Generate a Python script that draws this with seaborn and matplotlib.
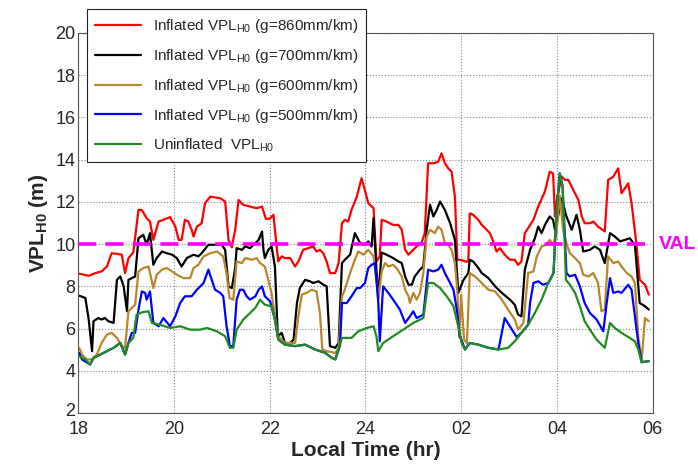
import numpy as np
import pandas as pd
import seaborn as sns
import matplotlib
matplotlib.use('Agg')
import matplotlib.pyplot as plt
from matplotlib.transforms import ScaledTranslation

# ---- data (local time in hours, 18 -> 30 = 06 next day) ----
red_t = [18.02, 18.22, 18.36, 18.49, 18.6, 18.7, 18.81, 18.91, 18.98, 19.05, 19.15, 19.26, 19.33,
         19.43, 19.5, 19.57, 19.68, 19.78, 19.92, 20.03, 20.1, 20.16, 20.23, 20.3, 20.37, 20.41,
         20.48, 20.58, 20.65, 20.76, 20.97, 21.07, 21.14, 21.21, 21.28, 21.35, 21.45, 21.59, 21.73,
         21.84, 21.92, 22.0, 22.08, 22.11, 22.18, 22.25, 22.32, 22.43, 22.53, 22.6, 22.7, 22.81,
         22.91, 22.98, 23.05, 23.12, 23.19, 23.26, 23.37, 23.44, 23.51, 23.57, 23.64, 23.71, 23.82,
         23.92, 23.96, 24.06, 24.17, 24.23, 24.3, 24.34, 24.44, 24.58, 24.69, 24.76, 24.83, 24.9,
         25.0, 25.07, 25.17, 25.24, 25.31, 25.42, 25.52, 25.59, 25.66, 25.73, 25.8, 25.87, 25.92,
         25.98, 26.08, 26.15, 26.18, 26.25, 26.36, 26.43, 26.5, 26.6, 26.67, 26.74, 26.81, 26.91,
         27.02, 27.12, 27.19, 27.26, 27.33, 27.4, 27.51, 27.61, 27.75, 27.85, 27.92, 27.96, 28.01,
         28.1, 28.17, 28.24, 28.34, 28.45, 28.52, 28.58, 28.69, 28.76, 28.86, 29.0, 29.07, 29.18,
         29.28, 29.35, 29.49, 29.56, 29.66, 29.73, 29.84, 29.92]
red_v = [8.6, 8.5, 8.63, 8.71, 8.94, 9.57, 9.54, 9.5, 8.63, 9.34, 9.6, 11.62, 11.62,
         11.23, 11.07, 10.2, 11.07, 11.15, 11.28, 10.83, 10.2, 10.2, 11.15, 11.07, 10.68, 10.36,
         10.83, 10.99, 11.94, 12.25, 12.17, 12.02, 10.2, 9.85, 10.68, 12.09, 11.86, 11.78, 11.7,
         11.78, 11.2, 11.2, 11.39, 10.68, 9.18, 9.42, 9.34, 9.34, 8.94, 9.18, 9.73, 9.81,
         9.89, 9.65, 9.73, 9.57, 9.18, 8.63, 8.63, 9.1, 10.99, 11.15, 11.07, 11.62, 12.25,
         13.12, 12.8, 11.94, 11.7, 9.18, 9.42, 11.15, 11.07, 10.91, 10.91, 10.68, 9.73, 9.5,
         9.73, 9.89, 10.05, 10.52, 13.83, 13.83, 13.9, 14.3, 13.83, 13.59, 13.43, 12.25, 9.26,
         9.26, 9.18, 9.18, 11.46, 11.39, 11.15, 10.91, 10.76, 10.52, 10.13, 9.65, 9.81, 9.5,
         9.26, 9.26, 9.02, 9.18, 10.52, 10.76, 11.15, 11.78, 12.49, 13.43, 13.35, 11.31, 12.25,
         13.2, 13.04, 13.04, 12.57, 12.09, 11.31, 10.99, 10.99, 11.07, 10.83, 10.6, 13.04, 13.2,
         13.59, 12.41, 12.88, 11.94, 10.05, 8.31, 8.08, 7.61]

black_t = [18.02, 18.15, 18.22, 18.29, 18.32, 18.42, 18.49, 18.56, 18.63, 18.74, 18.81, 18.88,
           18.95, 19.02, 19.05, 19.12, 19.19, 19.26, 19.36, 19.43, 19.5, 19.57, 19.64, 19.75,
           19.85, 19.96, 20.06, 20.16, 20.27, 20.41, 20.51, 20.58, 20.72, 20.86, 21.0, 21.07,
           21.14, 21.21, 21.28, 21.31, 21.42, 21.49, 21.59, 21.7, 21.77, 21.84, 21.87, 21.9,
           21.97, 22.04, 22.11, 22.17, 22.25, 22.32, 22.43, 22.5, 22.57, 22.63, 22.74, 22.84,
           22.91, 23.02, 23.12, 23.19, 23.26, 23.37, 23.44, 23.51, 23.57, 23.68, 23.78, 23.89,
           23.99, 24.06, 24.13, 24.17, 24.23, 24.27, 24.34, 24.44, 24.58, 24.69, 24.76, 24.83,
           24.9, 24.97, 25.03, 25.14, 25.21, 25.28, 25.35, 25.42, 25.49, 25.56, 25.66, 25.77,
           25.87, 25.94, 26.05, 26.15, 26.18, 26.25, 26.36, 26.43, 26.57, 26.71, 26.85, 27.02,
           27.12, 27.19, 27.26, 27.33, 27.44, 27.54, 27.61, 27.68, 27.75, 27.85, 27.92, 27.96,
           28.01, 28.1, 28.2, 28.31, 28.41, 28.48, 28.55, 28.69, 28.79, 28.9, 29.0, 29.11,
           29.21, 29.32, 29.42, 29.52, 29.63, 29.73, 29.84, 29.92]
black_v = [7.56, 7.45, 6.43, 4.93, 6.35, 6.5, 6.43, 6.5, 6.35, 6.27, 8.31, 8.47,
           8.0, 6.82, 8.31, 8.39, 8.47, 10.28, 10.44, 9.97, 10.52, 9.02, 9.34, 9.65,
           9.57, 9.5, 9.34, 8.94, 9.34, 9.5, 9.42, 9.57, 9.97, 9.97, 9.97, 9.73,
           8.0, 7.92, 8.87, 9.81, 9.73, 9.89, 9.81, 10.05, 10.2, 10.6, 9.73, 9.34,
           9.73, 9.89, 8.94, 5.64, 5.8, 5.32, 5.32, 5.48, 7.21, 7.92, 8.31, 8.24,
           8.16, 8.24, 8.08, 8.0, 5.17, 5.09, 5.32, 9.1, 9.26, 9.5, 10.52, 10.05,
           9.97, 10.13, 9.89, 11.23, 8.79, 7.53, 9.6, 9.5, 9.34, 9.18, 9.1, 8.47,
           8.08, 8.08, 8.47, 8.79, 8.94, 10.68, 11.86, 11.31, 11.62, 12.02, 11.62, 10.99,
           10.2, 7.69, 8.31, 8.63, 9.26, 9.18, 8.87, 8.63, 8.39, 8.0, 7.69, 7.37,
           7.13, 6.66, 6.58, 8.79, 9.73, 10.28, 10.83, 10.52, 10.91, 11.31, 11.15, 10.68,
           11.15, 12.17, 11.31, 10.68, 11.39, 10.68, 9.65, 9.73, 9.89, 9.73, 9.1, 10.52,
           10.36, 10.13, 10.2, 10.28, 9.97, 7.21, 7.06, 6.9]

brown_t = [18.02, 18.08, 18.18, 18.29, 18.39, 18.49, 18.6, 18.7, 18.81, 18.91, 18.98, 19.05,
           19.12, 19.19, 19.26, 19.36, 19.47, 19.57, 19.64, 19.75, 19.85, 19.96, 20.06, 20.2,
           20.34, 20.41, 20.51, 20.62, 20.76, 20.9, 21.03, 21.1, 21.16, 21.24, 21.31, 21.42,
           21.49, 21.63, 21.73, 21.8, 21.9, 21.97, 22.04, 22.11, 22.18, 22.32, 22.53, 22.6,
           22.67, 22.77, 22.88, 22.98, 23.05, 23.1, 23.19, 23.37, 23.44, 23.51, 23.57, 23.68,
           23.78, 23.85, 23.96, 24.06, 24.17, 24.23, 24.27, 24.34, 24.41, 24.48, 24.58, 24.65,
           24.76, 24.83, 24.9, 24.93, 25.0, 25.07, 25.14, 25.21, 25.28, 25.35, 25.45, 25.52,
           25.59, 25.66, 25.73, 25.8, 25.87, 25.92, 25.96, 26.0, 26.06, 26.12, 26.18, 26.29,
           26.43, 26.57, 26.71, 26.85, 26.98, 27.12, 27.19, 27.3, 27.4, 27.51, 27.58, 27.68,
           27.78, 27.85, 27.92, 27.99, 28.06, 28.13, 28.2, 28.27, 28.38, 28.48, 28.55, 28.66,
           28.76, 28.86, 28.93, 29.0, 29.07, 29.18, 29.28, 29.35, 29.46, 29.56, 29.63, 29.7,
           29.77, 29.84, 29.92]
brown_v = [5.09, 4.77, 4.54, 4.54, 4.77, 5.32, 5.72, 5.8, 5.56, 5.17, 5.09, 6.82,
           6.98, 7.13, 8.71, 8.87, 8.94, 7.92, 8.55, 8.79, 8.87, 8.71, 8.55, 8.39,
           8.39, 8.87, 9.02, 9.42, 9.57, 9.65, 9.42, 8.63, 7.45, 7.37, 9.18, 9.1,
           9.34, 9.26, 9.34, 9.1, 8.94, 8.31, 7.69, 6.58, 5.64, 5.32, 5.32, 6.58,
           7.61, 7.69, 7.84, 7.76, 6.74, 5.01, 4.93, 4.85, 5.09, 7.53, 7.84, 8.63,
           9.26, 9.65, 9.5, 9.73, 9.42, 8.31, 7.37, 8.71, 9.1, 8.94, 9.02, 8.87,
           8.47, 7.84, 7.53, 7.21, 7.69, 7.37, 7.69, 8.63, 10.36, 10.68, 10.52, 10.83,
           10.68, 10.05, 9.97, 9.73, 9.1, 7.8, 5.6, 7.6, 5.5, 5.3, 8.63, 8.47,
           8.16, 7.84, 7.76, 7.37, 6.9, 6.43, 5.95, 6.27, 8.63, 8.71, 9.42, 9.89,
           9.97, 10.2, 9.97, 10.52, 12.3, 10.68, 10.05, 9.57, 9.34, 9.1, 8.55, 8.47,
           8.63, 8.16, 6.82, 6.9, 9.42, 9.1, 9.18, 8.94, 8.63, 8.47, 8.16, 5.64,
           4.46, 6.5, 6.35]

blue_t = [18.02, 18.08, 18.25, 18.32, 18.46, 18.6, 18.74, 18.88, 18.98, 19.05, 19.12, 19.19,
          19.26, 19.33, 19.4, 19.43, 19.5, 19.57, 19.68, 19.78, 19.92, 20.03, 20.13, 20.23,
          20.37, 20.48, 20.62, 20.72, 20.79, 20.86, 20.97, 21.03, 21.1, 21.17, 21.24, 21.31,
          21.38, 21.45, 21.52, 21.59, 21.7, 21.77, 21.84, 21.9, 22.01, 22.11, 22.18, 22.32,
          22.53, 22.74, 22.95, 23.16, 23.3, 23.37, 23.47, 23.51, 23.61, 23.71, 23.82, 23.89,
          23.99, 24.06, 24.13, 24.2, 24.27, 24.3, 24.37, 24.48, 24.58, 24.72, 24.83, 24.93,
          25.0, 25.07, 25.21, 25.31, 25.42, 25.52, 25.59, 25.66, 25.77, 25.84, 25.91, 25.97,
          26.01, 26.08, 26.18, 26.36, 26.57, 26.78, 26.91, 27.04, 27.16, 27.26, 27.4, 27.44,
          27.51, 27.61, 27.71, 27.82, 27.93, 27.99, 28.06, 28.12, 28.2, 28.27, 28.38, 28.48,
          28.58, 28.69, 28.83, 28.97, 29.04, 29.11, 29.18, 29.28, 29.35, 29.49, 29.56, 29.63,
          29.7, 29.77, 29.92]
blue_v = [4.85, 4.54, 4.3, 4.61, 4.77, 4.93, 5.09, 5.32, 4.77, 5.32, 5.8, 5.8,
          6.9, 7.76, 7.69, 7.37, 7.76, 6.27, 6.11, 6.5, 6.11, 6.58, 7.21, 7.53,
          7.53, 7.84, 8.16, 8.79, 8.31, 7.84, 7.69, 7.53, 6.11, 5.17, 5.17, 7.37,
          7.84, 7.84, 7.53, 7.37, 7.53, 7.84, 8.0, 7.53, 7.29, 6.43, 5.48, 5.24,
          5.17, 5.24, 5.01, 4.85, 4.61, 4.54, 5.2, 7.21, 7.21, 7.53, 7.92, 7.92,
          8.16, 8.87, 9.02, 9.1, 7.21, 5.4, 8.0, 7.69, 7.37, 6.9, 6.27, 6.58,
          6.82, 6.5, 6.66, 8.79, 8.71, 8.79, 9.02, 8.63, 8.16, 7.84, 6.9, 5.64,
          5.45, 5.01, 5.32, 5.24, 5.09, 5.01, 6.5, 6.03, 5.6, 5.8, 6.19, 7.21,
          8.16, 8.24, 8.08, 8.16, 8.63, 11.46, 13.35, 12.72, 8.63, 8.47, 8.55, 8.0,
          7.21, 6.74, 6.43, 5.87, 7.21, 8.39, 7.69, 7.76, 7.69, 8.08, 7.84, 6.58,
          5.32, 4.41, 4.46]

green_t = [18.02, 18.15, 18.25, 18.32, 18.46, 18.6, 18.74, 18.88, 18.98, 19.05, 19.15, 19.22,
           19.33, 19.47, 19.54, 19.75, 19.92, 20.13, 20.34, 20.55, 20.69, 20.9, 21.07, 21.17,
           21.24, 21.31, 21.45, 21.59, 21.7, 21.8, 21.9, 22.04, 22.11, 22.18, 22.32, 22.53,
           22.74, 22.95, 23.16, 23.3, 23.37, 23.51, 23.71, 23.85, 24.03, 24.17, 24.23, 24.27,
           24.37, 24.58, 24.79, 25.0, 25.21, 25.31, 25.42, 25.56, 25.7, 25.84, 25.94, 26.01,
           26.08, 26.18, 26.36, 26.57, 26.78, 26.98, 27.12, 27.26, 27.4, 27.54, 27.68, 27.82,
           27.93, 27.99, 28.06, 28.12, 28.19, 28.27, 28.38, 28.48, 28.58, 28.69, 28.83, 29.0,
           29.11, 29.21, 29.35, 29.52, 29.63, 29.7, 29.77, 29.92]
green_v = [4.69, 4.54, 4.3, 4.61, 4.77, 4.93, 5.09, 5.32, 4.77, 5.32, 5.56, 6.66,
           6.77, 6.82, 6.27, 6.15, 6.03, 6.11, 5.95, 5.95, 6.03, 5.87, 5.64, 5.09,
           5.09, 5.95, 6.43, 6.74, 6.98, 7.37, 7.13, 7.06, 6.43, 5.48, 5.24, 5.17,
           5.24, 5.01, 4.85, 4.61, 4.54, 5.56, 5.56, 5.87, 6.03, 6.11, 5.64, 4.93,
           5.32, 5.64, 5.95, 6.27, 6.5, 8.16, 8.16, 7.92, 7.53, 7.06, 6.11, 5.32,
           5.01, 5.32, 5.24, 5.09, 5.01, 5.09, 5.4, 5.8, 6.19, 6.74, 7.37, 8.16,
           8.63, 11.46, 13.35, 12.72, 8.31, 8.08, 7.69, 7.06, 6.35, 5.95, 5.48, 5.09,
           6.27, 6.03, 5.8, 5.56, 5.4, 5.01, 4.41, 4.46]

labels = [r'Inflated VPL$_{\rm H0}$ (g=860mm/km)',
          r'Inflated VPL$_{\rm H0}$ (g=700mm/km)',
          r'Inflated VPL$_{\rm H0}$ (g=600mm/km)',
          r'Inflated VPL$_{\rm H0}$ (g=500mm/km)',
          r'Uninflated  VPL$_{\rm H0}$']
colors = ['#ff0000', '#000000', '#b8862b', '#0000ff', '#1e8c1e']
val_level = 10
xticks = [18, 20, 22, 24, 26, 28, 30]
xtick_labels = ['18', '20', '22', '24', '02', '04', '06']

frames = []
for lab, t, v in zip(labels, [red_t, black_t, brown_t, blue_t, green_t],
                     [red_v, black_v, brown_v, blue_v, green_v]):
    frames.append(pd.DataFrame({'hour': t, 'vpl': v, 'series': lab}))
df = pd.concat(frames, ignore_index=True)

sns.set_style('white')
plt.rcParams['font.family'] = ['Liberation Sans', 'DejaVu Sans']
plt.rcParams['mathtext.fontset'] = 'custom'
plt.rcParams['mathtext.rm'] = 'Liberation Sans'
plt.rcParams['mathtext.bf'] = 'Liberation Sans:bold'

fig = plt.figure(figsize=(6.98, 4.71), dpi=100)
ax = fig.add_axes([0.112, 0.123, 0.823, 0.807])

sns.lineplot(data=df, x='hour', y='vpl', hue='series', hue_order=labels,
             palette=colors, estimator=None, sort=False, linewidth=1.6, ax=ax)

ax.axhline(val_level, color='#ff00ff', linestyle=(0, (5, 2.6)), linewidth=2.6, zorder=5)
ax.text(1.01, val_level, 'VAL', transform=ax.get_yaxis_transform(), color='#ff00ff',
        fontsize=14, fontweight='bold', va='center', ha='left')

ax.set_xlim(18, 30)
ax.set_ylim(2, 20)
ax.set_xticks(xticks)
ax.set_xticklabels(xtick_labels)
ax.set_yticks(np.arange(2, 21, 2))
ax.tick_params(direction='in', labelsize=13, length=4, pad=2)
ax.tick_params(axis='x', pad=6)
ax.grid(True, color='#888888', linestyle=':', linewidth=0.8)
for sp in ax.spines.values():
    sp.set_color('#555555')
    sp.set_linewidth(0.8)

# the bottom "2" sits a touch above the corner, as in the original
lab2 = ax.yaxis.get_major_ticks()[0].label1
lab2.set_transform(lab2.get_transform() + ScaledTranslation(0, 2.5 / 72, fig.dpi_scale_trans))

ax.set_xlabel('Local Time (hr)', fontsize=15, fontweight='bold', labelpad=2)
ax.set_ylabel(r'VPL$_{\mathbf{H0}}$ (m)', fontsize=15, fontweight='bold', labelpad=4)

handles, _ = ax.get_legend_handles_labels()
leg = ax.legend(handles, labels, loc='upper left', bbox_to_anchor=(0.016, 1.062),
                borderaxespad=0, fontsize=11, handlelength=3.0, labelspacing=0.78,
                borderpad=0.5, fancybox=False, framealpha=1, edgecolor='#222222')
leg.get_frame().set_linewidth(0.8)
leg.set_zorder(10)

fig.savefig('out.png', dpi=100)
